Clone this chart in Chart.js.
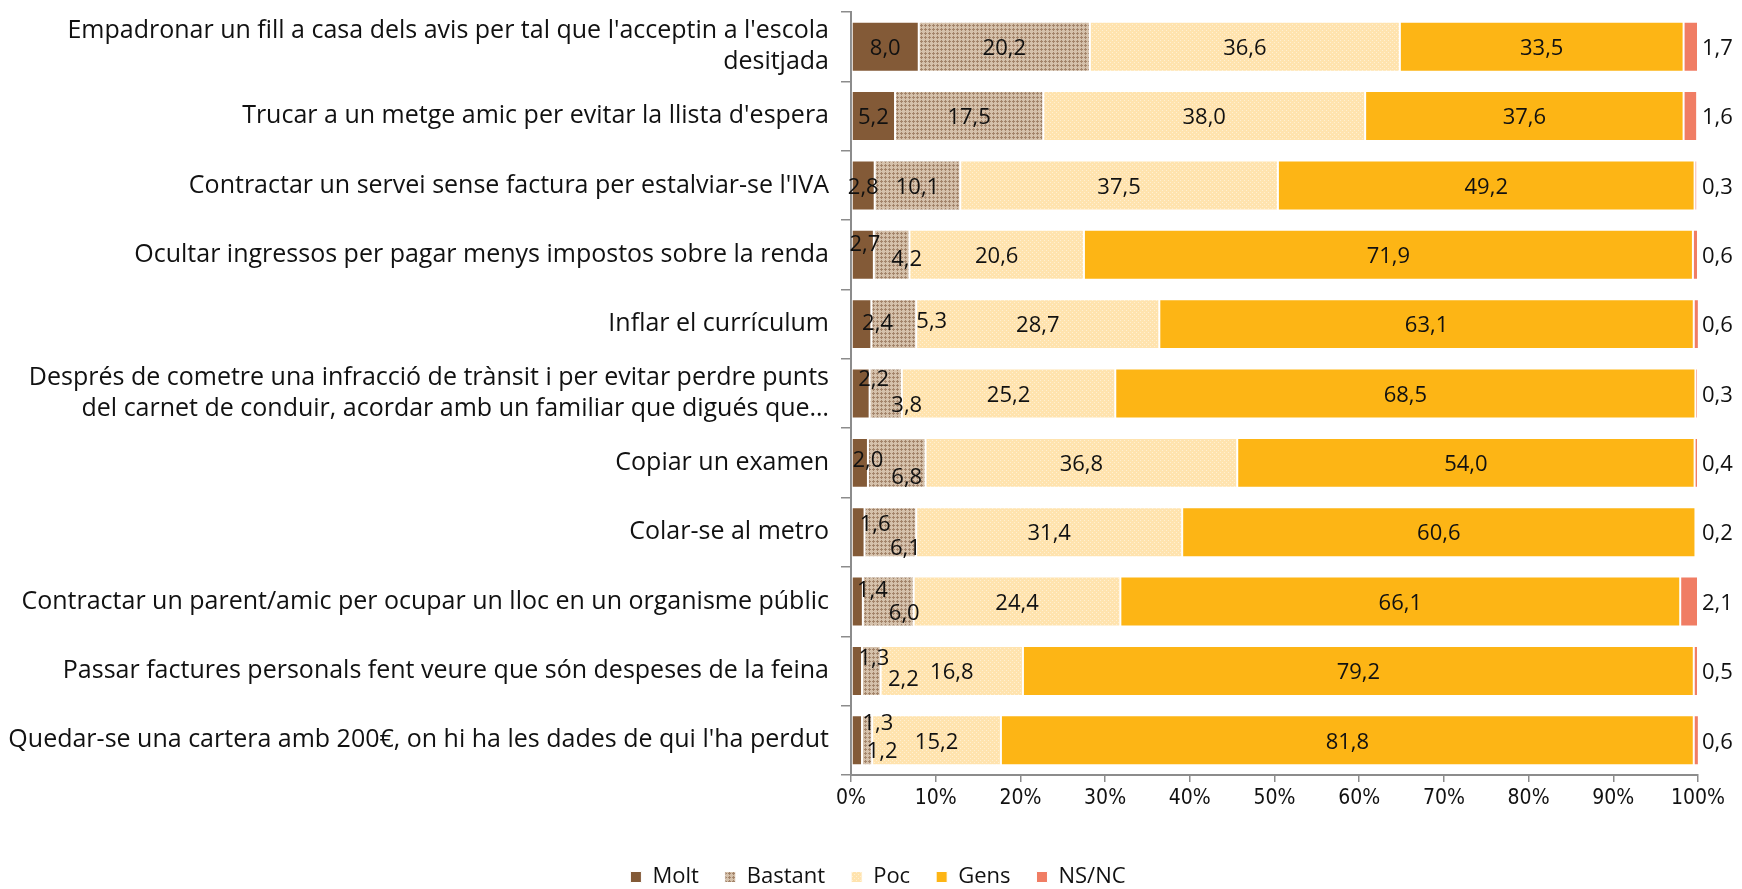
<!DOCTYPE html>
<html>
<head>
<meta charset="utf-8">
<script src="https://cdn.jsdelivr.net/npm/chart.js@4.4.1/dist/chart.umd.min.js"></script>
<style>
  html, body { margin: 0; padding: 0; background: #fff; }
  #wrap { width: 1742px; height: 889px; }
</style>
</head>
<body>
<div id="wrap"><canvas id="chart" width="1742" height="889"></canvas></div>
<script>
var categories = [
  ["Empadronar un fill a casa dels avis per tal que l'acceptin a l'escola", "desitjada"],
  "Trucar a un metge amic per evitar la llista d'espera",
  "Contractar un servei sense factura per estalviar-se l'IVA",
  "Ocultar ingressos per pagar menys impostos sobre la renda",
  "Inflar el currículum",
  ["Després de cometre una infracció de trànsit i per evitar perdre punts", "del carnet de conduir, acordar amb un familiar que digués que…"],
  "Copiar un examen",
  "Colar-se al metro",
  "Contractar un parent/amic per ocupar un lloc en un organisme públic",
  "Passar factures personals fent veure que són despeses de la feina",
  "Quedar-se una cartera amb 200€, on hi ha les dades de qui l'ha perdut"
];
var seriesNames = ['Molt', 'Bastant', 'Poc', 'Gens', 'NS/NC'];
var molt    = [8.0, 5.2, 2.8, 2.7, 2.4, 2.2, 2.0, 1.6, 1.4, 1.3, 1.3];
var bastant = [20.2, 17.5, 10.1, 4.2, 5.3, 3.8, 6.8, 6.1, 6.0, 2.2, 1.2];
var poc     = [36.6, 38.0, 37.5, 20.6, 28.7, 25.2, 36.8, 31.4, 24.4, 16.8, 15.2];
var gens    = [33.5, 37.6, 49.2, 71.9, 63.1, 68.5, 54.0, 60.6, 66.1, 79.2, 81.8];
var nsnc    = [1.7, 1.6, 0.3, 0.6, 0.6, 0.3, 0.4, 0.2, 2.1, 0.5, 0.6];
var xTicks  = [0, 10, 20, 30, 40, 50, 60, 70, 80, 90, 100];

// hand-placed label nudges for the narrow segments [dx, dy] in px
var moltNudge = [[0,0],[0,0],[0,0],[2,-12],[16,-2],[13,-16],[8,-4],[17,-9],[15,-13],[17,-14],[21,-19]];
var bastantNudge = [[0,0],[0,0],[0,0],[15,3],[38,-4],[21,10],[10,13],[15,15],[16,10],[32,7],[15,9]];

var FONT = '"Open Sans", "Noto Sans", sans-serif';

function makePattern(base, dot, size, pts) {
  var c = document.createElement('canvas');
  c.width = size; c.height = size;
  var g = c.getContext('2d');
  g.fillStyle = base;
  g.fillRect(0, 0, size, size);
  g.fillStyle = dot;
  pts.forEach(function (p) { g.fillRect(p[0], p[1], 1, 1); });
  return g.createPattern(c, 'repeat');
}

var bastantFill = makePattern('#d5c1ab', '#a3846a', 4, [[1,0],[0,1],[1,1],[2,1],[1,2]]);
var pocFill = makePattern('#ffe3ae', '#fff0d2', 4, [[0,0],[2,2]]);

var colors = ['#835a37', bastantFill, pocFill, '#fdb515', '#f07d64'];
var values = [molt, bastant, poc, gens, nsnc];

function fmt(v) { return v.toFixed(1).replace('.', ','); }

var barLabels = {
  id: 'barLabels',
  afterDatasetsDraw: function (chart) {
    var ctx = chart.ctx;
    var area = chart.chartArea;
    ctx.save();
    ctx.font = '22px ' + FONT;
    ctx.fillStyle = '#111';
    ctx.textBaseline = 'middle';
    chart.data.datasets.forEach(function (ds, di) {
      var meta = chart.getDatasetMeta(di);
      meta.data.forEach(function (bar, i) {
        var v = ds.data[i];
        var y = bar.y + 2;
        if (di === 4) {
          ctx.textAlign = 'left';
          ctx.fillText(fmt(v), area.right + 4, y);
          return;
        }
        var x = (bar.x + bar.base) / 2;
        if (di === 0) { x += moltNudge[i][0]; y += moltNudge[i][1]; }
        if (di === 1) { x += bastantNudge[i][0]; y += bastantNudge[i][1]; }
        ctx.textAlign = 'center';
        ctx.fillText(fmt(v), x, y);
      });
    });
    ctx.restore();
  }
};

// legend sits a bit lower and a bit right of where Chart.js puts it
var legendShift = {
  id: 'legendShift',
  beforeInit: function (chart) {
    var fit = chart.legend.fit;
    chart.legend.fit = function () {
      fit.call(this);
      this.height -= 9;
    };
  },
  afterLayout: function (chart) {
    chart.legend.left += 29;
    chart.legend.right += 29;
  }
};

var ctx = document.getElementById('chart');
new Chart(ctx, {
  type: 'bar',
  data: {
    labels: categories,
    datasets: seriesNames.map(function (name, i) {
      return {
        label: name,
        data: values[i],
        backgroundColor: colors[i],
        borderColor: '#ffffff',
        borderWidth: { left: 1, right: 1, top: 1, bottom: 1 },
        borderSkipped: false,
        barPercentage: 0.72,
        categoryPercentage: 1.0
      };
    })
  },
  options: {
    indexAxis: 'y',
    responsive: false,
    animation: false,
    devicePixelRatio: 1,
    layout: { padding: { top: 12, right: 44, left: 0, bottom: 0 } },
    plugins: {
      tooltip: { enabled: false },
      legend: {
        position: 'bottom',
        labels: {
          color: '#111',
          font: { family: FONT, size: 22 },
          boxWidth: 11,
          boxHeight: 11,
          padding: 26
        }
      }
    },
    scales: {
      x: {
        stacked: true,
        min: 0,
        max: 100,
        afterBuildTicks: function (scale) {
          scale.ticks = xTicks.map(function (v) { return { value: v }; });
        },
        afterFit: function (scale) { scale.height = 65; },
        grid: { display: true, drawOnChartArea: false, tickLength: 7, color: '#8c8c8c', lineWidth: 1.5 },
        border: { display: true, color: '#8c8c8c', width: 2 },
        ticks: {
          color: '#111',
          padding: 4,
          maxRotation: 0,
          font: { family: '"Liberation Sans Narrow", "DejaVu Sans Condensed", sans-serif', size: 21 },
          callback: function (v) { return v + '%'; }
        }
      },
      y: {
        stacked: true,
        afterFit: function (scale) {
          scale.width = 851;
          scale.paddingTop = 0;
          scale.paddingBottom = 0;
        },
        grid: { display: true, drawOnChartArea: false, offset: true, tickLength: 10, color: '#8c8c8c', lineWidth: 1.5 },
        border: { display: true, color: '#8c8c8c', width: 2 },
        ticks: {
          color: '#111',
          padding: 12,
          autoSkip: false,
          font: { family: FONT, size: 25, lineHeight: 1.25 }
        }
      }
    }
  },
  plugins: [barLabels, legendShift]
});
</script>
</body>
</html>
